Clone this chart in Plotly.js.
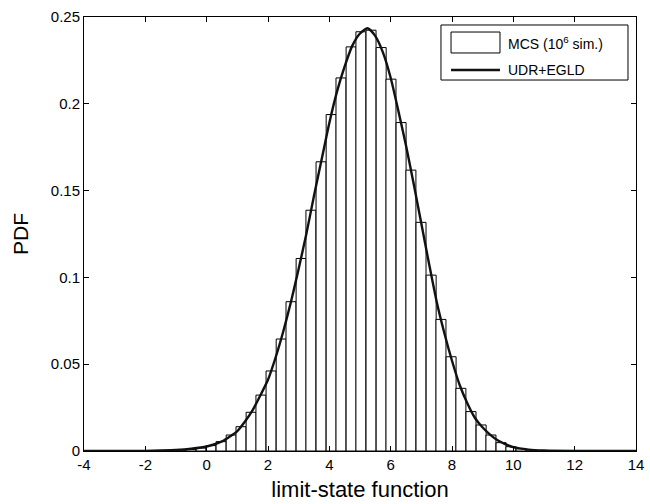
<!DOCTYPE html>
<html>
<head>
<meta charset="utf-8">
<script src="https://cdn.plot.ly/plotly-3.0.1.min.js"></script>
<style>html,body{margin:0;padding:0;background:#fff;}#chart{width:650px;height:504px;}</style>
</head>
<body>
<div id="chart"></div>
<script>
// Histogram (MCS, 10^6 simulations): bin centers and normalized heights (PDF)
const binCenters = [-2.14, -1.81, -1.49, -1.16, -0.84, -0.51, -0.18, 0.14, 0.47, 0.80,
  1.12, 1.45, 1.77, 2.10, 2.43, 2.75, 3.08, 3.40, 3.73, 4.06,
  4.38, 4.71, 5.03, 5.36, 5.69, 6.01, 6.34, 6.66, 6.99, 7.32,
  7.64, 7.97, 8.29, 8.62, 8.95, 9.27, 9.60, 9.92, 10.25, 10.58,
  10.90, 11.23, 11.55, 11.88, 12.21];
const binHeights = [0.00005, 0.0001, 0.0002, 0.0003, 0.0005, 0.0009, 0.0017, 0.0031, 0.0054, 0.0092,
  0.0140, 0.0223, 0.0322, 0.0461, 0.0645, 0.0860, 0.1109, 0.1387, 0.1666, 0.1938,
  0.2149, 0.2328, 0.2415, 0.2424, 0.2324, 0.2142, 0.1892, 0.1618, 0.1317, 0.1013,
  0.0758, 0.0543, 0.0361, 0.0227, 0.0150, 0.0092, 0.0048, 0.0025, 0.0013, 0.0006,
  0.0003, 0.00012, 0.00005, 0.00002, 0.00001];
const binWidth = 0.326;

// UDR+EGLD estimated PDF curve
const curveX = [-4, -3, -2, -1.5, -1, -0.5, 0, 0.5, 1, 1.25, 1.5, 1.75, 2, 2.25, 2.5, 2.75, 3, 3.25, 3.5, 3.75,
  4, 4.25, 4.5, 4.75, 5, 5.25, 5.5, 5.75, 6, 6.25, 6.5, 6.75, 7, 7.25, 7.5, 7.75,
  8, 8.25, 8.5, 8.75, 9, 9.25, 9.5, 10, 10.5, 11, 12, 13, 14];
const curveY = [0, 0.00002, 0.0001, 0.0003, 0.0006, 0.0013, 0.0026, 0.0055, 0.0115, 0.017, 0.0235, 0.032, 0.041, 0.054, 0.069, 0.086, 0.105, 0.125, 0.147, 0.168,
  0.189, 0.207, 0.2215, 0.2335, 0.2405, 0.2435, 0.239, 0.2295, 0.215, 0.196, 0.176, 0.154, 0.131, 0.108, 0.086, 0.068,
  0.052, 0.038, 0.0275, 0.019, 0.0135, 0.0093, 0.006, 0.0022, 0.0008, 0.0003, 0.00003, 0, 0];

const xTicks = [-4, -2, 0, 2, 4, 6, 8, 10, 12, 14];
const yTicks = [0, 0.05, 0.1, 0.15, 0.2, 0.25];
const yTickText = ['0', '0.05', '0.1', '0.15', '0.2', '0.25'];
const legendLabels = ['MCS (10<sup>6</sup> sim.)', 'UDR+EGLD'];

const FONT = 'Liberation Sans, Arial, Helvetica, sans-serif';

const traces = [
  {
    type: 'bar', x: binCenters, y: binHeights, width: binWidth,
    name: legendLabels[0], showlegend: false,
    marker: {color: '#ffffff', line: {color: '#000000', width: 1}}
  },
  {
    type: 'scatter', mode: 'lines', x: curveX, y: curveY,
    name: legendLabels[1], showlegend: false,
    line: {color: '#111111', width: 2.4, shape: 'spline', smoothing: 0.6}
  }
];

const axisFont = {family: FONT, size: 15, color: '#000'};
const layout = {
  width: 650, height: 504,
  margin: {l: 84, r: 14, t: 17, b: 53},
  paper_bgcolor: '#fff', plot_bgcolor: '#fff',
  bargap: 0,
  showlegend: false,
  xaxis: {
    range: [-4, 14], tickvals: xTicks, ticktext: xTicks.map(String),
    ticks: 'inside', ticklen: 5, tickcolor: '#000', tickwidth: 1,
    showline: true, linecolor: '#000', linewidth: 1, mirror: 'ticks',
    showgrid: false, zeroline: false, tickfont: axisFont,
    title: {text: 'limit-state function', font: {family: FONT, size: 22, color: '#000'}, standoff: 9}
  },
  yaxis: {
    range: [0, 0.25], tickvals: yTicks, ticktext: yTickText,
    ticks: 'inside', ticklen: 5, tickcolor: '#000', tickwidth: 1,
    showline: true, linecolor: '#000', linewidth: 1, mirror: 'ticks',
    showgrid: false, zeroline: false, tickfont: axisFont,
    title: {text: 'PDF', font: {family: FONT, size: 21, color: '#000'}, standoff: 16}
  },
  // Legend drawn as a boxed key in the upper right
  shapes: [
    {type: 'rect', xref: 'paper', yref: 'paper', x0: 0.6467, x1: 0.9855, y0: 0.8548, y1: 0.9816,
     line: {color: '#000', width: 1}, fillcolor: '#fff', layer: 'above'},
    {type: 'rect', xref: 'paper', yref: 'paper', x0: 0.6649, x1: 0.7536, y0: 0.9171, y1: 0.9654,
     line: {color: '#000', width: 1}, fillcolor: '#fff', layer: 'above'},
    {type: 'line', xref: 'paper', yref: 'paper', x0: 0.6649, x1: 0.7536, y0: 0.8779, y1: 0.8779,
     line: {color: '#111', width: 2.4}, layer: 'above'}
  ],
  annotations: [
    {xref: 'paper', yref: 'paper', x: 0.7645, y: 0.9401, xanchor: 'left', yanchor: 'middle',
     text: legendLabels[0], showarrow: false, font: {family: FONT, size: 14, color: '#000'}},
    {xref: 'paper', yref: 'paper', x: 0.7645, y: 0.8779, xanchor: 'left', yanchor: 'middle',
     text: legendLabels[1], showarrow: false, font: {family: FONT, size: 14, color: '#000'}}
  ]
};

Plotly.newPlot('chart', traces, layout, {displayModeBar: false, staticPlot: true});
</script>
</body>
</html>
